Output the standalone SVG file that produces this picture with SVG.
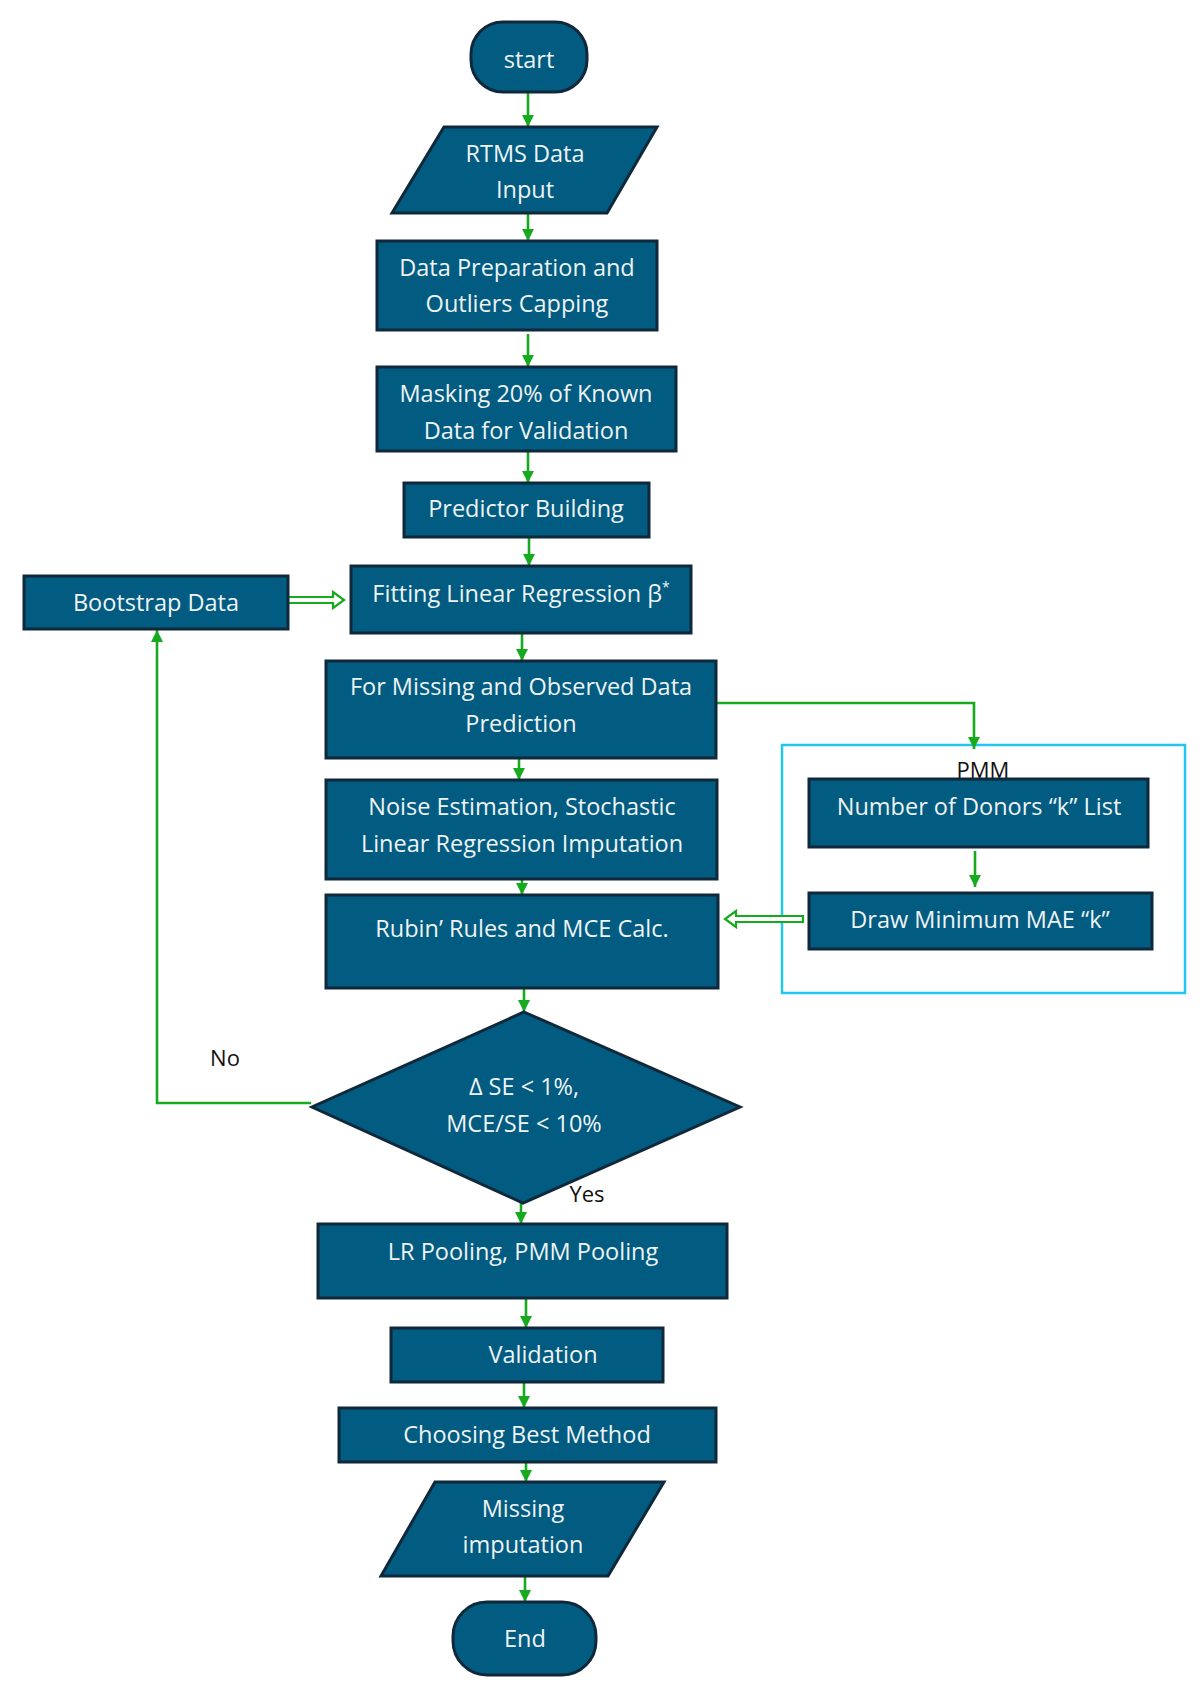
<svg xmlns="http://www.w3.org/2000/svg" width="1202" height="1693" viewBox="0 0 1202 1693">
<style>
.n{fill:#025b80;stroke:#10293a;stroke-width:3}
.t{font-family:"Open Sans","Noto Sans",sans-serif;font-size:23.5px;fill:#eef3f6;text-anchor:middle}
.k{font-family:"Open Sans","Noto Sans",sans-serif;font-size:22px;fill:#111;text-anchor:middle}
.c{fill:none;stroke:#17aa1f;stroke-width:2.6}
.d{fill:#fff;stroke:#17aa1f;stroke-width:2.2}
</style>
<defs>
<marker id="ah" markerUnits="userSpaceOnUse" markerWidth="14" markerHeight="14" refX="12" refY="7" orient="auto">
<path d="M0,1 L12,7 L0,13 Z" fill="#17aa1f"/>
</marker>
</defs>
<rect width="1202" height="1693" fill="#fff"/>

<g id="pmm-group">
<rect x="782" y="745" width="403" height="248" fill="none" stroke="#22c6f0" stroke-width="2.5"/>
<text class="k" x="983" y="778">PMM</text>
</g>

<g id="connectors">
<path class="c" d="M528,92 V127" marker-end="url(#ah)"/>
<path class="c" d="M528,213 V241" marker-end="url(#ah)"/>
<path class="c" d="M528,334 V367" marker-end="url(#ah)"/>
<path class="c" d="M528,451 V483" marker-end="url(#ah)"/>
<path class="c" d="M529,537 V566" marker-end="url(#ah)"/>
<path class="c" d="M522,633 V661" marker-end="url(#ah)"/>
<path class="c" d="M519,758 V780" marker-end="url(#ah)"/>
<path class="c" d="M522,879 V895" marker-end="url(#ah)"/>
<path class="c" d="M524,976 V1012" marker-end="url(#ah)"/>
<path class="c" d="M521,1190 V1224" marker-end="url(#ah)"/>
<path class="c" d="M526,1298 V1328" marker-end="url(#ah)"/>
<path class="c" d="M524,1376 V1408" marker-end="url(#ah)"/>
<path class="c" d="M526,1445 V1482" marker-end="url(#ah)"/>
<path class="c" d="M525,1566 V1602" marker-end="url(#ah)"/>
<path class="c" d="M716,703 H974 V749" marker-end="url(#ah)"/>
<path class="c" d="M975,851 V887" marker-end="url(#ah)"/>
<path class="c" d="M311,1103 H157 V630" marker-end="url(#ah)"/>
<path class="d" d="M287,597 H333 V592 L344,600 L333,608 V603 H287 Z"/>
<path class="d" d="M803,916 H736 V911 L725,919 L736,927 V922 H803 Z"/>
</g>

<g id="start">
<rect class="n" x="471" y="22" width="116" height="70" rx="32"/>
<text class="t" x="529" y="68">start</text>
</g>
<g id="rtms-input">
<polygon class="n" points="444,127 657,127 607,213 392,213"/>
<text class="t" x="525" y="162">RTMS Data</text>
<text class="t" x="525" y="198">Input</text>
</g>
<g id="data-prep">
<rect class="n" x="377" y="241" width="280" height="89"/>
<text class="t" x="517" y="276">Data Preparation and</text>
<text class="t" x="517" y="312">Outliers Capping</text>
</g>
<g id="masking">
<rect class="n" x="377" y="367" width="299" height="84"/>
<text class="t" x="526" y="402">Masking 20% of Known</text>
<text class="t" x="526" y="439">Data for Validation</text>
</g>
<g id="predictor">
<rect class="n" x="404" y="483" width="245" height="54"/>
<text class="t" x="526" y="517">Predictor Building</text>
</g>
<g id="bootstrap">
<rect class="n" x="24" y="576" width="264" height="53"/>
<text class="t" x="156" y="611">Bootstrap Data</text>
</g>
<g id="fitting">
<rect class="n" x="351" y="566" width="340" height="67"/>
<text class="t" x="521" y="602">Fitting Linear Regression β<tspan font-size="14" dy="-10">*</tspan></text>
</g>
<g id="prediction">
<rect class="n" x="326" y="661" width="390" height="97"/>
<text class="t" x="521" y="695">For Missing and Observed Data</text>
<text class="t" x="521" y="732">Prediction</text>
</g>
<g id="noise">
<rect class="n" x="326" y="780" width="391" height="99"/>
<text class="t" x="522" y="815">Noise Estimation, Stochastic</text>
<text class="t" x="522" y="852">Linear Regression Imputation</text>
</g>
<g id="rubin">
<rect class="n" x="326" y="895" width="392" height="93"/>
<text class="t" x="522" y="937">Rubin’ Rules and MCE Calc.</text>
</g>
<g id="donors">
<rect class="n" x="809" y="779" width="339" height="68"/>
<text class="t" x="979" y="815">Number of Donors “k” List</text>
</g>
<g id="draw-min">
<rect class="n" x="809" y="893" width="343" height="56"/>
<text class="t" x="980" y="928">Draw Minimum MAE “k”</text>
</g>
<g id="decision">
<polygon class="n" points="524,1012 740,1107 523,1203 312,1107"/>
<text class="t" x="524" y="1095">Δ SE &lt; 1%,</text>
<text class="t" x="524" y="1132">MCE/SE &lt; 10%</text>
<text class="k" x="225" y="1066">No</text>
<text class="k" x="587" y="1202">Yes</text>
</g>
<g id="pooling">
<rect class="n" x="318" y="1224" width="409" height="74"/>
<text class="t" x="523" y="1260">LR Pooling, PMM Pooling</text>
</g>
<g id="validation">
<rect class="n" x="391" y="1328" width="272" height="54"/>
<text class="t" x="543" y="1363">Validation</text>
</g>
<g id="choosing">
<rect class="n" x="339" y="1408" width="377" height="54"/>
<text class="t" x="527" y="1443">Choosing Best Method</text>
</g>
<g id="missing-imputation">
<polygon class="n" points="435,1482 664,1482 608,1576 381,1576"/>
<text class="t" x="523" y="1517">Missing</text>
<text class="t" x="523" y="1553">imputation</text>
</g>
<g id="end">
<rect class="n" x="453" y="1602" width="143" height="73" rx="34"/>
<text class="t" x="525" y="1647">End</text>
</g>
</svg>
